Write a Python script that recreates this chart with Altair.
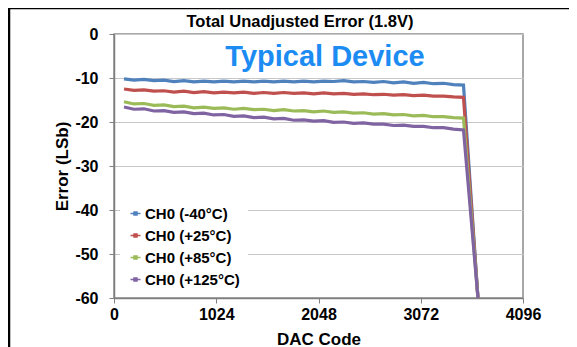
import altair as alt
import pandas as pd

series_names = ["CH0 (-40°C)", "CH0 (+25°C)", "CH0 (+85°C)", "CH0 (+125°C)"]
series_colors = ["#4F81BD", "#C0504D", "#9BBB59", "#8064A2"]

codes = [100, 200, 300, 400, 500, 600, 700, 800, 900, 1000,
         1100, 1200, 1300, 1400, 1500, 1600, 1700, 1800, 1900, 2000,
         2100, 2200, 2300, 2400, 2500, 2600, 2700, 2800, 2900, 3000,
         3100, 3200, 3300, 3400, 3500, 3645]

err_m40 = [-10.2, -10.5, -10.3, -10.6, -10.5, -10.8, -10.6, -10.9, -10.7, -10.9,
           -10.7, -10.9, -10.7, -10.9, -10.7, -10.9, -10.7, -10.9, -10.7, -10.9,
           -10.7, -10.8, -10.6, -10.9, -10.8, -11.0, -10.8, -11.1, -10.9, -11.2,
           -11.0, -11.3, -11.2, -11.5, -11.6, -60.0]
err_p25 = [-12.5, -12.8, -12.7, -13.0, -12.9, -13.2, -13.0, -13.3, -13.1, -13.4,
           -13.2, -13.4, -13.2, -13.5, -13.3, -13.5, -13.3, -13.5, -13.4, -13.6,
           -13.4, -13.6, -13.5, -13.7, -13.6, -13.8, -13.7, -13.9, -13.8, -14.0,
           -13.9, -14.1, -14.1, -14.3, -14.4, -60.0]
err_p85 = [-15.4, -15.9, -15.8, -16.2, -16.1, -16.5, -16.4, -16.8, -16.6, -16.9,
           -16.8, -17.1, -16.9, -17.2, -17.1, -17.4, -17.2, -17.5, -17.4, -17.7,
           -17.5, -17.8, -17.7, -18.0, -17.9, -18.2, -18.1, -18.4, -18.3, -18.6,
           -18.5, -18.8, -18.8, -19.0, -19.1, -60.0]
err_p125 = [-16.6, -17.1, -17.0, -17.5, -17.4, -17.8, -17.7, -18.1, -18.0, -18.4,
            -18.3, -18.7, -18.6, -19.0, -18.9, -19.3, -19.2, -19.6, -19.5, -19.8,
            -19.7, -20.1, -20.0, -20.3, -20.2, -20.5, -20.5, -20.8, -20.7, -21.0,
            -21.0, -21.3, -21.3, -21.6, -21.8, -60.0]

x_ticks = [0, 1024, 2048, 3072, 4096]
y_ticks = [-60, -50, -40, -30, -20, -10, 0]

chart_title = "Total Unadjusted Error (1.8V)"
annotation = "Typical Device"

rows = []
for name, vals in zip(series_names, [err_m40, err_p25, err_p85, err_p125]):
    for i, (c, v) in enumerate(zip(codes, vals)):
        rows.append({"series": name, "code": c, "err": v, "idx": i})
df = pd.DataFrame(rows)

FONT = "Liberation Sans"

lines = alt.Chart(df).mark_line(strokeWidth=3.2, clip=True).encode(
    x=alt.X("code:Q",
            scale=alt.Scale(domain=[0, 4096], nice=False, zero=False),
            axis=alt.Axis(values=x_ticks, title="DAC Code", grid=False,
                          labelExpr="'' + datum.value", labelFlush=False,
                          labelPadding=3,
                          titleY=46, titleBaseline="alphabetic", titleFontSize=17)),
    y=alt.Y("err:Q",
            scale=alt.Scale(domain=[-60, 0], nice=False),
            axis=alt.Axis(values=y_ticks, title="Error (LSb)", grid=True,
                          labelExpr="'' + datum.value", labelFlush=False,
                          labelPadding=11,
                          titleX=-52, titleY=132, titleBaseline="middle", titleAlign="center",
                          titleAngle=270, titleFontSize=17)),
    color=alt.Color("series:N",
                    sort=series_names,
                    scale=alt.Scale(domain=series_names, range=series_colors),
                    legend=alt.Legend(
                        title=None, orient="none", legendX=6, legendY=164,
                        fillColor="white", padding=8, rowPadding=6,
                        symbolType="M-1,0H1M-0.3,-0.3H0.3V0.3H-0.3Z",
                        symbolSize=100, symbolStrokeWidth=1.5,
                        labelFontSize=15, labelFont=FONT, labelFontWeight="bold",
                        labelColor="#000000", labelOffset=2)),
    order=alt.Order("idx:Q"),
    detail="series:N",
)

frame_df = pd.DataFrame({"a": [0]})
top_border = alt.Chart(frame_df).mark_rule(color="black", strokeWidth=2.5).encode(
    x=alt.value(-106), x2=alt.value(470), y=alt.value(-26))
left_border = alt.Chart(frame_df).mark_rule(color="black", strokeWidth=2.5).encode(
    x=alt.value(-105), y=alt.value(-27), y2=alt.value(320))

label_df = pd.DataFrame({"t": [annotation]})
typical = alt.Chart(label_df).mark_text(
    font=FONT, fontSize=29, fontWeight="bold", color="#1C8BF2",
    align="center", baseline="alphabetic").encode(
    text="t:N", x=alt.value(211), y=alt.value(32))

title_df = pd.DataFrame({"t": [chart_title]})
title_txt = alt.Chart(title_df).mark_text(
    font=FONT, fontSize=16.5, fontWeight="bold", color="#000000",
    align="center", baseline="alphabetic").encode(
    text="t:N", x=alt.value(186), y=alt.value(-7))

chart = alt.layer(lines, typical, title_txt, top_border, left_border).properties(
    width=409, height=264,
    autosize=alt.AutoSizeParams(type="none"),
    padding={"left": 106, "top": 26, "right": 46, "bottom": 49},
).configure(
    font=FONT,
    background="white",
).configure_view(
    stroke="#8c8c8c", strokeWidth=1.5,
).configure_axis(
    labelFont=FONT, labelFontSize=16, labelFontWeight="bold", labelColor="#000000",
    titleFont=FONT, titleFontWeight="bold", titleColor="#000000",
    domainColor="#7f7f7f", domainWidth=1.5, tickColor="#7f7f7f", tickSize=5,
    gridColor="#c8c8c8", gridWidth=1,
)

chart.save("out.html", embed_options={"renderer": "svg", "actions": False})
